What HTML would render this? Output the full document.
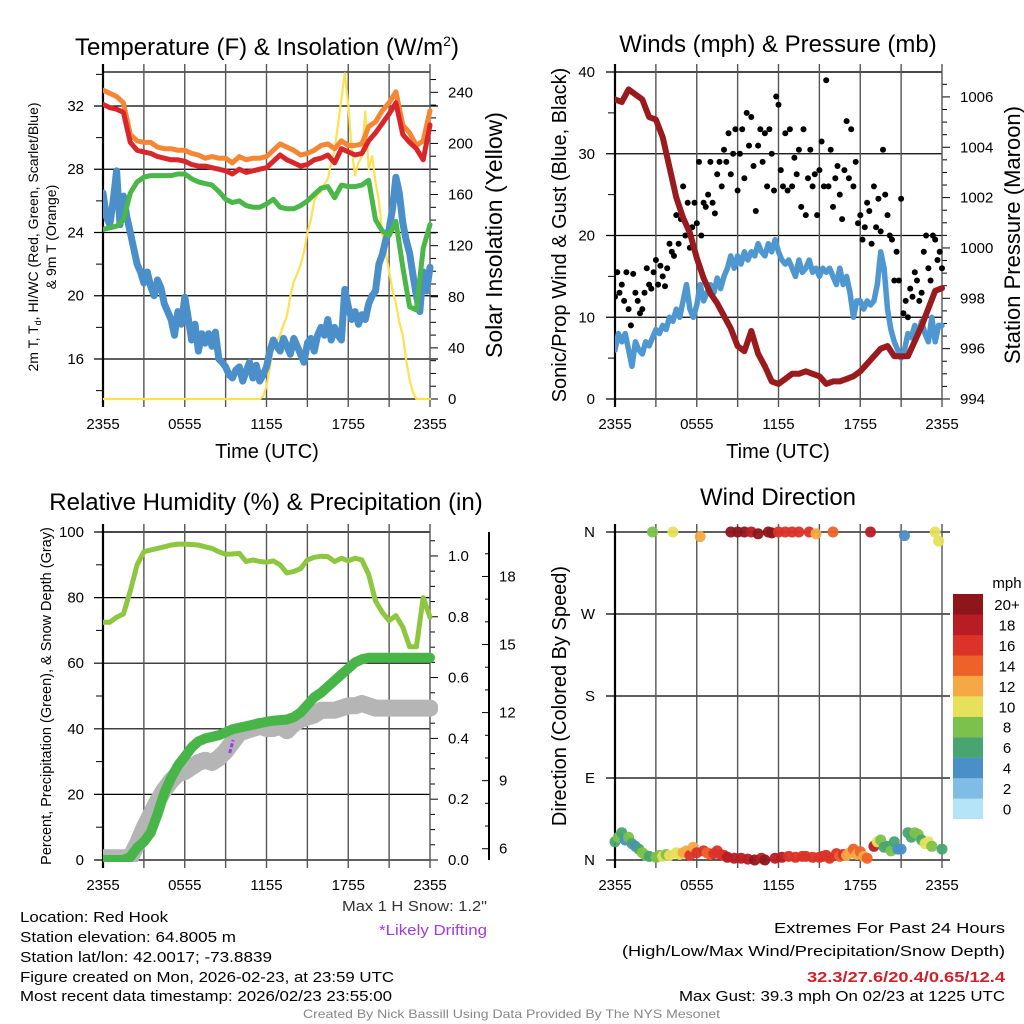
<!DOCTYPE html>
<html><head><meta charset="utf-8">
<style>
html,body{margin:0;padding:0;background:#fff;}
svg{display:block;font-family:"Liberation Sans",Arial,sans-serif;}
</style></head>
<body>
<svg id="chart" width="1024" height="1024" viewBox="0 0 1024 1024" xmlns="http://www.w3.org/2000/svg"></svg>
<script>
// ---------- DATA ----------
const xTickLabels = ["2355","0555","1155","1755","2355"];
const xTickHours = [0,6,12,18,24];
// Panel 1 (step 0.5h unless noted)
const orange9mT = [33.0,32.8,32.6,32.2,30.2,29.8,29.7,29.7,29.4,29.3,29.3,29.2,29.2,29.0,28.9,28.7,28.8,28.7,28.7,28.4,28.8,28.6,28.7,28.7,28.8,29.2,29.6,29.4,29.2,28.9,29.0,29.2,29.5,29.6,29.3,29.8,29.5,29.5,29.6,30.7,31.0,31.7,32.2,32.9,30.8,30.3,29.5,29.8,31.7];
const red2mT = [32.1,31.9,31.8,31.6,29.7,29.2,29.1,29.0,28.8,28.7,28.6,28.6,28.5,28.3,28.2,28.2,28.1,28.0,27.9,27.7,28.0,27.8,27.9,28.0,28.1,28.5,28.9,28.6,28.4,28.2,28.3,28.6,28.7,28.9,28.4,29.3,29.1,28.9,29.0,29.8,30.3,30.9,31.5,32.2,30.2,29.7,29.3,28.6,30.8];
const greenDewpt = [24.2,24.3,24.4,24.8,26.5,27.2,27.5,27.6,27.6,27.6,27.6,27.7,27.7,27.4,27.2,27.1,27.0,26.6,26.1,25.9,26.0,25.7,25.6,25.6,25.8,26.1,25.6,25.5,25.5,25.7,26.0,26.4,26.8,26.9,26.2,27.0,26.9,26.9,27.0,27.3,24.8,24.1,23.8,24.7,21.8,19.3,19.1,23.0,24.5];
// step 0.25h
const blueWindChill = [26.5,25.0,24.5,26.0, 27.9,24.5,26.3,25.0, 24.0,23.0,22.0,21.5, 20.8,21.5,20.6,20.0, 21.0,20.5,19.5,19.0, 18.5,17.5,19.0,18.2, 19.9,18.6,17.2,18.2, 16.5,17.6,17.0,17.6, 16.8,17.7,16.0,15.8, 15.5,15.0,14.8,15.3, 15.5,14.6,15.2,15.8, 14.8,15.6,14.6,15.0, 15.5,16.5,17.2,16.8, 16.5,17.3,16.8,16.3, 17.3,16.8,16.3,15.8, 17.0,17.3,16.5,17.5, 18.0,17.5,18.5,17.2, 18.0,17.5,17.2,20.4, 19.3,18.5,19.0,18.2, 18.8,18.5,19.5,20.0, 20.3,22.0,22.6,23.5, 24.2,25.5,27.5,26.5, 24.6,23.5,22.7,21.3, 20.0,19.0,21.5,20.3, 21.8];
const solarInsolation = [0,0,0,0,0,0,0,0,0,0,0,0,0,0,0,0,0,0,0,0,0,0,0,0,0,0,0,0,0,0,0,0,0,0,0,0,0,0,0,0,0,0,0,0, 0,0,0,2, 10,25,40,45, 50,58,65,80, 92,98,105,115, 130,140,155,160, 162,168,172,185, 195,215,235,255, 230,195,175,185, 190,225,180,190, 170,155,130,115, 100,85,75,60, 50,30,15,5, 0,0,0,0, 0];
// Panel 2
const pressureMb = [1005.9,1005.8,1006.3,1006.1,1005.9,1005.2,1005.1,1004.4,1003.2,1002.0,1001.2,1000.6,999.6,998.8,998.2,997.8,997.3,996.8,996.1,995.9,996.7,995.8,995.3,994.7,994.6,994.8,995.0,995.0,995.1,995.0,994.9,994.6,994.7,994.7,994.8,994.9,995.1,995.4,995.7,996.0,996.1,995.7,995.7,995.7,996.3,996.9,997.6,998.3,998.4];
const windSpeed = [6,8,7,8, 6,4,7,6, 5.5,7,6.5,7.5, 8.5,8,9,8.5, 10,9.5,11,10, 12,14,11,10, 11.5,14,12,13, 14,13,14.8,13.5, 15,16,17.5,16, 17.5,16.5,18,17, 18,17.5,19,18, 17.5,19,18,19.5, 18,17,16.5,17, 16,15,17,15.5, 16,17,15.5,16, 15,16,15.5,16, 15,14,16,14, 15,13,10,12, 12,11,12,11.5, 12,14,18,16, 11,8.5,7,6, 5,6,8,7.5, 9,8,9.5,8, 7,10,7,9, 9];
// step 1/6 h
const windGust = [12.5,15.5,13,14,12,15.5, 11,9,15.3,13,12,10.5, 11,13,16,14,13.5,15.5, 17,14,16.3,15,13.8,16, 19,18,17.5,22.5,19,22, 26,20,24,18.5,21,24, 21.5,29,20,24,23.5,25, 29,24,22.7,27.5,29,26, 30.5,29,32.5,27.5,30,33, 25.5,30,33,27,35,31, 34.5,28.5,23,31,33,29, 32.5,26,33,30,25.5,37, 36,28,26,32.5,25.5,33, 26,29.5,27.5,30.5,23.5,33, 22.5,27,30.5,26,27.5,22.5, 28,31.5,26,39,26,30.5, 23.5,27,28.5,25,22,28, 34,27,33,26,29,21.5, 22.5,19.5,21,24,23,19, 26,21,24.5,20.5,30.5,25, 22.5,20,19.5,14.5,18,14.5, 24.5,10.5,12,10,13.5,12.5, 15.5,14.5,12,13,18,20, 16,14.5,20,19.5,17,18, 16];
// Panel 3 (step 0.5h)
const relHumidity = [72.5,72.5,74,75,82,90,94,94.5,95,95.5,96,96.3,96.3,96.2,96,95.5,95,94,93.2,93.3,93.5,91,91.5,91,90.8,91.2,90,87.5,88,88.8,91.5,92.3,92.6,92.5,91,92,91.2,92,91.5,87,79,75.5,73,74.5,71,65,65,80,74];
const precipIn = [0,0,0,0,0.01,0.04,0.06,0.09,0.15,0.22,0.27,0.31,0.34,0.37,0.39,0.40,0.405,0.41,0.42,0.43,0.435,0.44,0.445,0.45,0.455,0.458,0.46,0.462,0.47,0.485,0.51,0.535,0.55,0.57,0.59,0.61,0.63,0.65,0.66,0.665,0.665,0.665,0.665,0.665,0.665,0.665,0.665,0.665,0.665];
const snowDepth = [5.6,5.6,5.6,5.6,5.6,6.2,6.9,7.5,8.1,8.6,9.0,9.3,9.4,9.6,9.8,9.9,9.8,10.0,10.3,10.7,11.1,11.2,11.3,11.4,11.3,11.3,11.4,11.2,11.5,11.7,11.8,11.9,12.1,12.1,12.1,12.2,12.3,12.3,12.4,12.3,12.2,12.2,12.2,12.2,12.2,12.2,12.2,12.2,12.2];
// Panel 4 (step 0.25h)
const windDir = [20,25,30,22, 25,18,15,12, 8,5,4,360, 3,5,4,6, 5,360,8,6, 8,10,5,14, 8,355,10,8, 6,7,10,6, 5,3,360,2, 360,2,360,1, 360,0,358,2, 0,360,359,2, 360,3,360,4, 360,3,360,4, 4,360,3,358, 3,4,5,2, 360,7,4,6, 5,8,12,6, 9,4,2,360, 15,20,22,14, 15,10,20,12, 12,356,30,25, 30,28,22,18, 20,15,360,350, 12];
const dirSpeed = [7,8,6,4, 8,7,5,6, 8,8,7,8, 8,9,10,8, 10,10,11,11, 12,12,16,13, 16,13,16,14, 14,16,17,16, 17,18,20,19, 20,19,20,19, 19,20,20,19, 20,20,20,19, 17,18,16,17, 16,17,17,16, 16,16,17,12, 16,17,16,17, 14,16,14,17, 12,13,14,12, 14,13,14,18, 18,10,8,6, 7,8,6,5, 4,4,6,7, 8,8,7,10, 10,8,10,10, 6];
const speedLevels = ["0","2","4","6","8","10","12","14","16","18","20+"];
const speedColors = ["#b5e3f7","#80bde6","#4a8fc7","#48a56f","#7cc14b","#e7e05a","#f6a845","#ee6229","#db3328","#b81c25","#8e161b"];
const dirLabels = ["N","E","S","W","N"];

// ---------- HELPERS ----------
const NS = 'http://www.w3.org/2000/svg';
const svg = document.getElementById('chart');
function mk(tag, attrs, name, parent) {
  const el = document.createElementNS(NS, tag);
  for (const k in attrs) el.setAttribute(k, attrs[k]);
  
  
  (parent || svg).appendChild(el);
  return el;
}
function line(x1,y1,x2,y2,stroke,w,name,parent){
  return mk('line',{x1:x1,y1:y1,x2:x2,y2:y2,stroke:stroke,'stroke-width':w},name,parent);
}
function txt(x,y,s,size,anchor,name,extra,parent){
  const a = Object.assign({x:x,y:y,'font-size':size,'text-anchor':anchor||'start',fill:'#000'}, extra||{});
  const t = mk('text',a,name,parent);
  t.textContent = s;
  return t;
}
function rtxt(x,y,s,size,name,rot,extra){
  const a = Object.assign({x:0,y:0,'font-size':size,'text-anchor':'middle',fill:'#000',transform:'translate('+x+','+y+') rotate('+(rot||-90)+')'}, extra||{});
  const t = mk('text',a,name);
  t.textContent = s;
  return t;
}
function mkPanel(x0,x1,yT,yB){ return {x0:x0,x1:x1,yT:yT,yB:yB}; }
function xs(p,h){ return p.x0 + h/24*(p.x1-p.x0); }
function ys(p,v,lo,hi){ return p.yB - (v-lo)/(hi-lo)*(p.yB-p.yT); }
function series(p,vals,step,lo,hi,color,w,name,extra){
  let d='';
  for(let i=0;i<vals.length;i++){
    d += (i?'L':'M') + xs(p,i*step).toFixed(1) + ',' + ys(p,vals[i],lo,hi).toFixed(1);
  }
  const g = mk('g',{'clip-path':'url(#clip-'+p.id+')'}, name+'-group');
  return mk('path',Object.assign({d:d,fill:'none',stroke:color,'stroke-width':w,'stroke-linejoin':'round','stroke-linecap':'round'},extra||{}),name,g);
}
function clip(p){
  const defs = mk('defs',{}, 'clip-defs');
  const c = mk('clipPath',{id:'clip-'+p.id},'clip-'+p.id,defs);
  mk('rect',{x:p.x0,y:p.yT-2,width:p.x1-p.x0+8,height:p.yB-p.yT+4},'clip-rect',c);
}
function xAxis(p,tickName){
  for(let i=0;i<=8;i++){
    const x = p.x0 + i*(p.x1-p.x0)/8;
    line(x,p.yT-8,x,p.yB+8,(i===0?'#000':'#555'),(i===0?2.2:1.4),'x-grid-line');
  }
  for(let i=0;i<xTickHours.length;i++){
    txt(xs(p,xTickHours[i]),p.yB+30,xTickLabels[i],15,'middle',tickName);
  }
}

// ---------- PANEL 1 ----------
const p1 = mkPanel(103,430,72,399); p1.id='p1';
const t1lo=13.47, t1hi=34.15, s1lo=0, s1hi=255.9;
clip(p1);
txt(267,55,'Temperature (F) & Insolation (W/m',24,'middle','temp-title').insertAdjacentHTML('beforeend','<tspan dy="-9" font-size="14">2</tspan><tspan dy="9">)</tspan>');
for(let v=14; v<=34; v+=2){
  const y=ys(p1,v,t1lo,t1hi);
  if(v%4===0){ line(94,y,438,y,'#000',1.2,'temp-grid-line'); txt(84,y+5,String(v),15,'end','temp-tick-label'); }
  else line(96,y,103,y,'#000',1,'temp-minor-tick');
}
for(let v=0; v<=250; v+=10){
  const y=ys(p1,v,s1lo,s1hi);
  const major = v%40===0;
  line(430,y,major?438:436,y,'#000',1,'solar-tick');
  if(major) txt(448,y+5,String(v),15,'start','solar-tick-label');
}
line(p1.x0,p1.yT,p1.x1,p1.yT,'#000',1.3,'temp-top-border');
line(p1.x0,p1.yB,p1.x1,p1.yB,'#000',1.3,'temp-bottom-border');
xAxis(p1,'temp-x-tick-label');
series(p1,solarInsolation,0.25,s1lo,s1hi,'#fde14f',2.2,'solar-insolation-line');
series(p1,blueWindChill,0.25,t1lo,t1hi,'#4a8fca',7,'wind-chill-line');
series(p1,greenDewpt,0.5,t1lo,t1hi,'#4bb748',5,'dewpoint-line');
series(p1,orange9mT,0.5,t1lo,t1hi,'#f58633',5,'temp-9m-line');
series(p1,red2mT,0.5,t1lo,t1hi,'#d8262b',5,'temp-2m-line');
txt(267,458,'Time (UTC)',20,'middle','temp-x-axis-title');
{
  const t = rtxt(38,237,'',14,'temp-y-axis-title');
  t.innerHTML = '2m T, T<tspan font-size="9" dy="3">d</tspan><tspan dy="-3">, HI/WC (Red, Green, Scarlet/Blue)</tspan>';
  rtxt(56,237,'& 9m T (Orange)',14,'temp-y-axis-title-2');
}
rtxt(502,235,'Solar Insolation (Yellow)',23,'solar-y-axis-title');

// ---------- PANEL 2 ----------
const p2 = mkPanel(615,942,72,399); p2.id='p2';
const w2lo=0, w2hi=40, pr2lo=994, pr2hi=1006.99;
clip(p2);
txt(778,52,'Winds (mph) & Pressure (mb)',24,'middle','winds-title');
for(let v=0; v<=40; v+=5){
  const y=ys(p2,v,w2lo,w2hi);
  if(v%10===0){ line(606,y,942,y,'#000',1.2,'wind-grid-line'); txt(595,y+5,String(v),15,'end','wind-tick-label'); }
  else line(608,y,615,y,'#000',1,'wind-minor-tick');
}
for(let v=994; v<=1006.9; v+=0.5){
  const y=ys(p2,v,pr2lo,pr2hi);
  const major = Math.abs(v%2)<0.01;
  line(942,y,major?950:947,y,'#000',1,'pressure-tick');
  if(major) txt(960,y+5,String(v),15,'start','pressure-tick-label');
}
line(p2.x0,p2.yT,p2.x1,p2.yT,'#000',1.3,'winds-top-border');
xAxis(p2,'winds-x-tick-label');
series(p2,windSpeed,0.25,w2lo,w2hi,'#4f97d1',5.5,'wind-speed-line');
{
  const g = mk('g',{'clip-path':'url(#clip-p2)'},'gust-points');
  for(let i=0;i<windGust.length;i++){
    const c = mk('circle',{cx:xs(p2,i/6).toFixed(1),cy:ys(p2,windGust[i],w2lo,w2hi).toFixed(1),r:3,fill:'#000'},'gust-point',g);
  }
}
series(p2,pressureMb,0.5,pr2lo,pr2hi,'#991b1e',6,'pressure-line');
txt(778,458,'Time (UTC)',20,'middle','winds-x-axis-title');
rtxt(566,235,'Sonic/Prop Wind & Gust (Blue, Black)',20,'winds-y-axis-title');
rtxt(1020,235,'Station Pressure (Maroon)',22,'pressure-y-axis-title');

// ---------- PANEL 3 ----------
const p3 = mkPanel(103,430,532,860); p3.id='p3';
const r3lo=0, r3hi=100, pc3lo=0, pc3hi=1.0788, sn3lo=5.503, sn3hi=19.96;
clip(p3);
txt(266,510,'Relative Humidity (%) & Precipitation (in)',24,'middle','humidity-title');
for(let v=0; v<=100; v+=10){
  const y=ys(p3,v,r3lo,r3hi);
  if(v%20===0){ line(94,y,430,y,'#000',1.2,'humidity-grid-line'); txt(84,y+5,String(v),15,'end','humidity-tick-label'); }
  else line(96,y,103,y,'#000',1,'humidity-minor-tick');
}
for(let v=0; v<=1.06; v+=0.05){
  const y=ys(p3,v,pc3lo,pc3hi);
  const major = Math.round(v*100)%20===0;
  line(430,y,major?438:435,y,'#000',1,'precip-tick');
  if(major) txt(448,y+5,v.toFixed(1),15,'start','precip-tick-label');
}
line(489,532,489,860,'#000',2,'snow-axis-line');
for(let v=6; v<=19; v+=1){
  const y=ys(p3,v,sn3lo,sn3hi);
  const major = v%3===0;
  line(489,y,major?482:485,y,'#000',1,'snow-tick');
  if(major) txt(499,y+5,String(v),15,'start','snow-tick-label');
}
line(p3.x0,p3.yT,p3.x1,p3.yT,'#000',1.3,'humidity-top-border');
xAxis(p3,'humidity-x-tick-label');
series(p3,snowDepth,0.5,sn3lo,sn3hi,'#b5b5b5',17,'snow-depth-line');
line(xs(p3,9.3),753,xs(p3,9.55),740,'#a23be6',3,'drifting-marker',null).setAttribute('stroke-dasharray','4,2');
series(p3,relHumidity,0.5,r3lo,r3hi,'#8dc63f',5,'humidity-line');
series(p3,precipIn,0.5,pc3lo,pc3hi,'#47b548',10,'precip-line');
rtxt(51,696,'Percent, Precipitation (Green), & Snow Depth (Gray)',14.5,'humidity-y-axis-title');

// ---------- PANEL 4 ----------
const p4 = mkPanel(615,942,532,860); p4.id='p4';
clip(p4);
txt(778,505,'Wind Direction',24,'middle','direction-title');
for(let i=0;i<dirLabels.length;i++){
  const y=ys(p4,i*90,0,360);
  line(606,y,950,y,'#000',1.2,'direction-grid-line');
  txt(595,y+5,dirLabels[i],15,'end','direction-tick-label');
}
xAxis(p4,'direction-x-tick-label');
{
  const g = mk('g',{},'direction-points');
  for(let i=0;i<windDir.length;i++){
    const ci = Math.min(10, Math.max(0, Math.floor(dirSpeed[i]/2)));
    const c = mk('circle',{cx:xs(p4,i*0.25).toFixed(1),cy:ys(p4,windDir[i],0,360).toFixed(1),r:5.5,fill:speedColors[ci],'fill-opacity':0.95},'direction-point',g);
  }
}
rtxt(566,696,'Direction (Colored By Speed)',20,'direction-y-axis-title');
// colorbar
txt(1007,588,'mph',15,'middle','colorbar-title');
for(let i=0;i<speedLevels.length;i++){
  const y = 594 + (10-i)*20.45;
  mk('rect',{x:953,y:y,width:30,height:20.6,fill:speedColors[i]},'colorbar-swatch');
  txt(1007,y+16,speedLevels[i],15,'middle','colorbar-label');
}

// ---------- FOOTER TEXT ----------
const footL = [['Location: Red Hook',922,148],['Station elevation: 64.8005 m',942,216],['Station lat/lon: 42.0017; -73.8839',962,252],['Figure created on Mon, 2026-02-23, at 23:59 UTC',982,374],['Most recent data timestamp: 2026/02/23 23:55:00',1001,372]];
for(const f of footL){ txt(20,f[1],f[0],15,'start','station-info',{textLength:f[2],lengthAdjust:'spacingAndGlyphs'}); }
txt(487,911,'Max 1 H Snow: 1.2"',15,'end','max-snow-note',{fill:'#333',textLength:145,lengthAdjust:'spacingAndGlyphs'});
txt(487,935,'*Likely Drifting',15,'end','drifting-note',{fill:'#a23be6',textLength:108,lengthAdjust:'spacingAndGlyphs'});
txt(1005,933,'Extremes For Past 24 Hours',15,'end','extremes-title',{textLength:231,lengthAdjust:'spacingAndGlyphs'});
txt(1005,956,'(High/Low/Max Wind/Precipitation/Snow Depth)',15,'end','extremes-legend',{textLength:383,lengthAdjust:'spacingAndGlyphs'});
txt(1005,982,'32.3/27.6/20.4/0.65/12.4',15,'end','extremes-values',{fill:'#d0202a','font-weight':'bold',textLength:198,lengthAdjust:'spacingAndGlyphs'});
txt(1005,1001,'Max Gust: 39.3 mph On 02/23 at 1225 UTC',15,'end','max-gust-note',{textLength:326,lengthAdjust:'spacingAndGlyphs'});
txt(303,1018,'Created By Nick Bassill Using Data Provided By The NYS Mesonet',12,'start','credits',{fill:'#888',textLength:417,lengthAdjust:'spacingAndGlyphs'});
</script>
</body></html>
